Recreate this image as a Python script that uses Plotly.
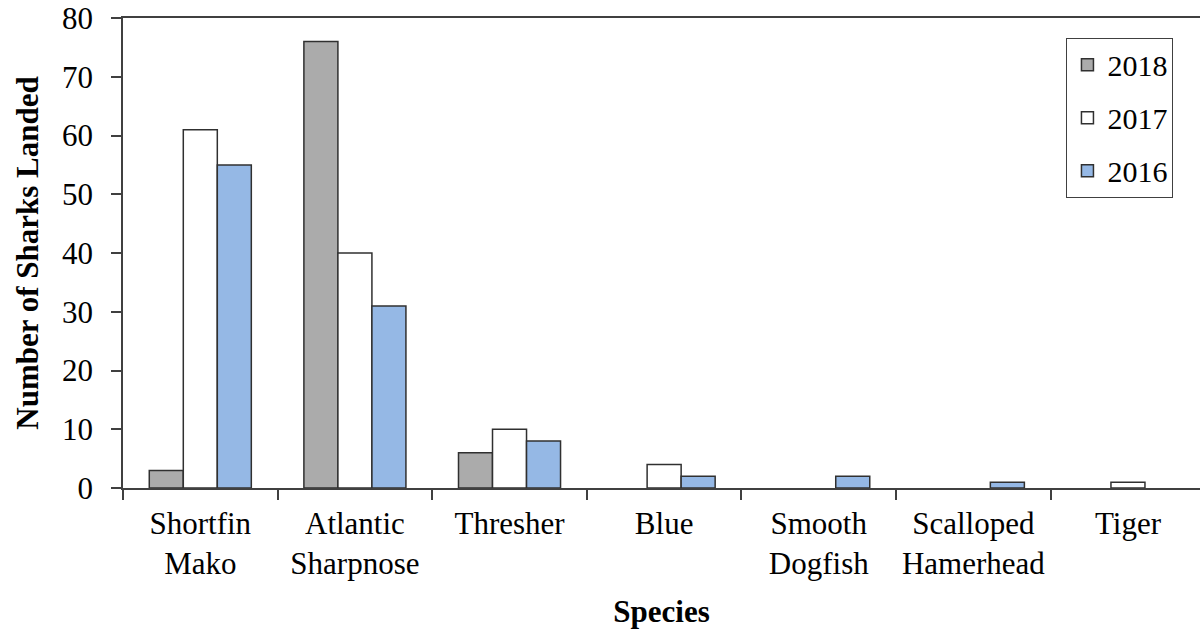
import plotly.graph_objects as go

categories = ["Shortfin<br>Mako", "Atlantic<br>Sharpnose", "Thresher", "Blue",
              "Smooth<br>Dogfish", "Scalloped<br>Hamerhead", "Tiger"]
years = ["2018", "2017", "2016"]
v2018 = [3, 76, 6, 0, 0, 0, 0]
v2017 = [61, 40, 10, 4, 0, 0, 1]
v2016 = [55, 31, 8, 2, 2, 1, 0]
colors = ["#ABABAB", "#FFFFFF", "#95B8E5"]

FONT = "'Times New Roman', 'Liberation Serif', 'DejaVu Serif', serif"
LINE = "#404040"

fig = go.Figure()
for i, (name, vals) in enumerate(zip(years, [v2018, v2017, v2016])):
    fig.add_trace(go.Bar(
        x=categories, y=vals, name=name, legendgroup=name,
        marker=dict(color=colors[i],
                    line=dict(color="#303030",
                              width=[1.5 if v > 0 else 0 for v in vals])),
    ))

fig.update_layout(
    width=1200, height=634,
    margin=dict(l=123, r=0, t=18, b=146),
    paper_bgcolor="white", plot_bgcolor="white",
    barmode="group", bargap=0.34, bargroupgap=0,
    font=dict(family=FONT, size=31, color="black"),
    showlegend=True,
    legend=dict(x=0.876, y=0.958, xanchor="left", yanchor="top",
                bgcolor="white", bordercolor=LINE, borderwidth=1,
                font=dict(family=FONT, size=30), traceorder="grouped", tracegroupgap=11,
                itemwidth=30),
    xaxis=dict(
        type="category", range=[-0.5, 6.466],
        showline=True, linecolor=LINE, linewidth=1.5, mirror=True,
        ticks="outside", tickson="boundaries", ticklen=10, tickwidth=1.5,
        tickcolor=LINE, showgrid=False, ticklabelstandoff=7,
        title=dict(text="<b>Species</b>", font=dict(family=FONT, size=31), standoff=20),
        tickfont=dict(family=FONT, size=31),
    ),
    yaxis=dict(
        range=[0, 80], dtick=10, tick0=0,
        showline=True, linecolor=LINE, linewidth=1.5,
        ticks="outside", ticklen=10, tickwidth=1.5, tickcolor=LINE,
        showgrid=False, zeroline=False, ticklabelstandoff=12,
        title=dict(text="<b>Number of Sharks Landed</b>", font=dict(family=FONT, size=31), standoff=14),
        tickfont=dict(family=FONT, size=31),
    ),
)

fig.write_html("out.html")
